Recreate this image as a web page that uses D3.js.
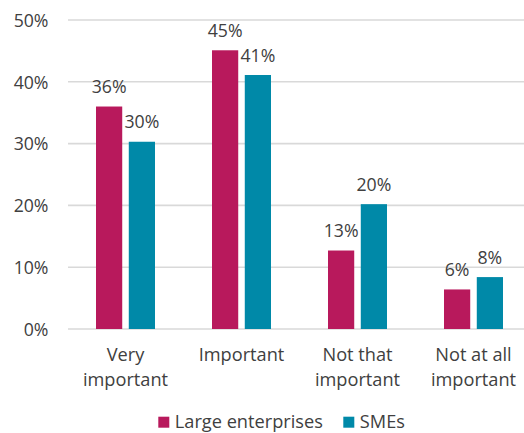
<!DOCTYPE html>
<html>
<head>
<meta charset="utf-8">
<script src="https://cdn.jsdelivr.net/npm/d3@7"></script>
<style>
  html, body { margin: 0; padding: 0; background: #fff; }
  svg { display: block; }
  text { font-family: "Open Sans", sans-serif; fill: #404040; }
</style>
</head>
<body>
<svg id="chart" width="524" height="433"></svg>
<script>
const categories = [["Very", "important"], ["Important"], ["Not that", "important"], ["Not at all", "important"]];
const categoryKeys = ["Very important", "Important", "Not that important", "Not at all important"];
const seriesNames = ["Large enterprises", "SMEs"];
const largeValues = [36, 45.1, 12.7, 6.4];
const smeValues = [30.3, 41.1, 20.2, 8.4];
const largeLabels = ["36%", "45%", "13%", "6%"];
const smeLabels = ["30%", "41%", "20%", "8%"];
const yTicks = [0, 10, 20, 30, 40, 50];
const colors = ["#B8195C", "#0089A8"];

const svg = d3.select("#chart");
const fontSize = 17.7;
const catFontSize = 18.2;

const y = d3.scaleLinear().domain([0, 50]).range([329, 20]);
const x = d3.scaleBand().domain(categoryKeys).range([67.5, 531.5]).padding(0);
const groupW = 59;
const xs = d3.scaleBand().domain(seriesNames).range([0, groupW]).paddingInner(0.2).paddingOuter(0);

const yAxis = d3.axisLeft(y).tickValues(yTicks).tickFormat(d => d + "%").tickSize(0).tickPadding(0);
const gAxis = svg.append("g").attr("transform", "translate(48.5,0)").call(yAxis);
gAxis.select(".domain").remove();
gAxis.selectAll("text").attr("font-size", fontSize).attr("font-family", "'Open Sans', sans-serif").attr("fill", "#404040").attr("dy", "0.36em");

svg.append("g").selectAll("line").data(yTicks).join("line")
  .attr("x1", 68).attr("x2", 524)
  .attr("y1", d => y(d)).attr("y2", d => y(d))
  .attr("stroke", "#d9d9d9").attr("stroke-width", 1.6);

const data = categoryKeys.map((c, i) => ({
  cat: c,
  vals: [
    { s: seriesNames[0], v: largeValues[i], label: largeLabels[i] },
    { s: seriesNames[1], v: smeValues[i], label: smeLabels[i] }
  ]
}));

const groups = svg.append("g").selectAll("g").data(data).join("g")
  .attr("transform", d => `translate(${x(d.cat) + (x.bandwidth() - groupW) / 2},0)`);

groups.selectAll("rect").data(d => d.vals).join("rect")
  .attr("x", d => xs(d.s))
  .attr("width", xs.bandwidth())
  .attr("y", d => y(d.v))
  .attr("height", d => y(0) - y(d.v))
  .attr("fill", (d, i) => colors[i]);

groups.selectAll("text.val").data(d => d.vals).join("text")
  .attr("class", "val")
  .attr("x", d => xs(d.s) + xs.bandwidth() / 2)
  .attr("y", d => y(d.v) - 13.5)
  .attr("text-anchor", "middle")
  .attr("font-size", fontSize)
  .text(d => d.label);

const catG = svg.append("g").selectAll("text").data(categoryKeys).join("text")
  .attr("x", d => x(d) + x.bandwidth() / 2)
  .attr("y", 360.7)
  .attr("text-anchor", "middle")
  .attr("font-size", catFontSize);
catG.each(function(d, i) {
  const t = d3.select(this);
  categories[i].forEach((line, j) => {
    t.append("tspan").attr("x", x(d) + x.bandwidth() / 2).attr("y", 360.7 + j * 25.3).text(line);
  });
});

const legend = svg.append("g");
const legendItems = [{ name: seriesNames[0], x: 158.3 }, { name: seriesNames[1], x: 343.3 }];
legendItems.forEach((it, i) => {
  legend.append("rect").attr("x", it.x).attr("y", 416.7).attr("width", 11).attr("height", 11).attr("fill", colors[i]);
  legend.append("text").attr("x", it.x + 16.5).attr("y", 427.7).attr("font-size", catFontSize).text(it.name);
});
</script>
</body>
</html>
